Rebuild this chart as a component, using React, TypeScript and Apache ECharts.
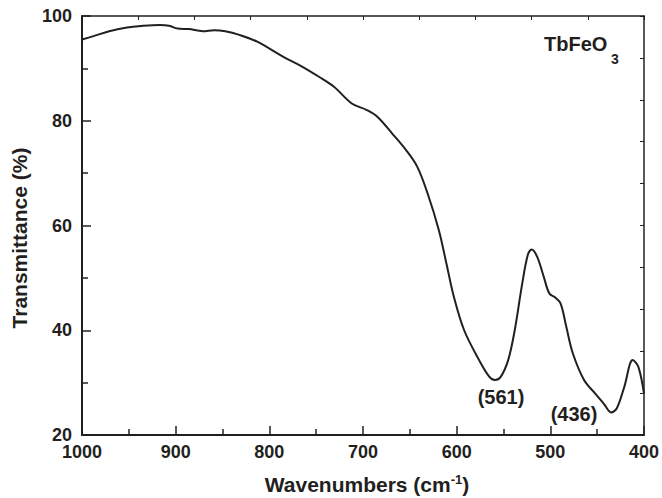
import React, { useEffect, useRef } from "react";
import * as echarts from "echarts";

const wavenumbers = [
  1000, 987, 971, 952, 937, 917, 907, 898, 886, 871, 859, 847, 832, 813, 785,
  766, 747, 731, 712, 696, 685, 669, 654, 642, 631, 619, 611, 603, 592, 576,
  565, 559, 553, 545, 538, 530, 524, 520, 514, 507, 501, 495, 489, 483, 476,
  464, 452, 443, 435, 429, 421, 412, 406, 400,
];
const transmittance = [
  95.5, 96.2, 97.1, 97.8, 98.1, 98.3, 98.15, 97.6, 97.5, 97.1, 97.3, 97.1, 96.4,
  95.1, 92.2, 90.45, 88.4, 86.5, 83.3, 82.05, 80.8, 77.6, 74.4, 71.2, 66.1, 59.1,
  52.8, 46.4, 40.0, 34.3, 31.1, 30.5, 31.1, 34.3, 40.0, 48.9, 54.4, 55.4, 54.0,
  50.2, 47.0, 46.3, 45.1, 40.7, 35.6, 30.5, 27.9, 26.0, 24.3, 25.1, 29.2, 34.3,
  33.0, 27.9,
];
const peakLabels = ["(561)", "(436)"];
const peakLabelCoords: [number, number][] = [
  [552.6, 27.3],
  [474.7, 24.1],
];

const FONT = '"Liberation Sans", Arial, Helvetica, sans-serif';
const INK = "#231f20";

export default function App() {
  const ref = useRef<HTMLDivElement>(null);
  useEffect(() => {
    if (!ref.current) return;
    const chart = echarts.init(ref.current, null, { renderer: "svg" });
    const data = wavenumbers.map((w, i) => [w, transmittance[i]]);
    chart.setOption({
      animation: false,
      backgroundColor: "#ffffff",
      grid: { left: 82, right: 15, top: 16, bottom: 63, containLabel: false },
      xAxis: [
        {
          type: "value",
          min: 400,
          max: 1000,
          interval: 100,
          inverse: true,
          position: "bottom",
          axisLine: { show: true, lineStyle: { color: INK, width: 2 } },
          axisTick: { show: true, inside: true, length: 9, lineStyle: { color: INK, width: 1.5 } },
          minorTick: { show: true, splitNumber: 2, length: 6, lineStyle: { color: INK, width: 1.5 } },
          splitLine: { show: false },
          axisLabel: {
            show: true,
            color: INK,
            fontSize: 18,
            fontWeight: "bold",
            fontFamily: FONT,
            margin: 8,
            formatter: (v: number) => String(v),
          },
        },
        {
          type: "value",
          min: 400,
          max: 1000,
          interval: 60,
          inverse: true,
          position: "top",
          axisLine: { show: true, lineStyle: { color: INK, width: 1.5 } },
          axisTick: { show: true, inside: true, length: 4, lineStyle: { color: INK, width: 1 } },
          splitLine: { show: false },
          axisLabel: { show: false },
        },
      ],
      yAxis: [
        {
          type: "value",
          min: 20,
          max: 100,
          interval: 20,
          position: "left",
          axisLine: { show: true, lineStyle: { color: INK, width: 2 } },
          axisTick: { show: true, inside: true, length: 9, lineStyle: { color: INK, width: 1.5 } },
          minorTick: { show: true, splitNumber: 2, length: 6, lineStyle: { color: INK, width: 1.5 } },
          splitLine: { show: false },
          axisLabel: {
            show: true,
            color: INK,
            fontSize: 18,
            fontWeight: "bold",
            fontFamily: FONT,
            margin: 10,
            formatter: (v: number) => String(v),
          },
        },
        {
          type: "value",
          min: 20,
          max: 100,
          interval: 8,
          position: "right",
          axisLine: { show: true, lineStyle: { color: INK, width: 1.5 } },
          axisTick: { show: true, inside: true, length: 4, lineStyle: { color: INK, width: 1 } },
          splitLine: { show: false },
          axisLabel: { show: false },
        },
      ],
      series: [
        {
          type: "line",
          data,
          xAxisIndex: 0,
          yAxisIndex: 0,
          smooth: 0.35,
          showSymbol: false,
          symbol: "none",
          lineStyle: { color: INK, width: 2 },
          markPoint: {
            symbol: "circle",
            symbolSize: 1,
            itemStyle: { color: "rgba(0,0,0,0)" },
            label: {
              show: true,
              position: "inside",
              color: INK,
              fontSize: 20,
              fontWeight: "bold",
              fontFamily: FONT,
              formatter: (p: any) => p.name,
            },
            data: peakLabels.map((name, i) => ({ name, coord: peakLabelCoords[i] })),
          },
        },
      ],
      graphic: [
        {
          type: "text",
          x: 19,
          y: 238,
          rotation: Math.PI / 2,
          style: {
            text: "Transmittance (%)",
            fill: INK,
            font: `bold 21px ${FONT}`,
            align: "center",
            verticalAlign: "middle",
          },
        },
        {
          type: "text",
          x: 367,
          y: 484,
          style: {
            text: "Wavenumbers (cm{sup|-1})",
            fill: INK,
            font: `bold 21px ${FONT}`,
            fontSize: 21,
            fontWeight: "bold",
            fontFamily: FONT,
            lineHeight: 22,
            align: "center",
            verticalAlign: "middle",
            rich: {
              sup: {
                fontSize: 13,
                fontWeight: "bold",
                fontFamily: FONT,
                fill: INK,
                lineHeight: 13,
                verticalAlign: "top",
              },
            },
          },
        },
        {
          type: "text",
          x: 544,
          y: 44,
          style: {
            text: "TbFeO",
            fill: INK,
            font: `bold 20px ${FONT}`,
            align: "left",
            verticalAlign: "middle",
          },
        },
        {
          type: "text",
          x: 611,
          y: 59,
          style: {
            text: "3",
            fill: INK,
            font: `bold 14px ${FONT}`,
            align: "left",
            verticalAlign: "middle",
          },
        },
      ],
    });
    return () => chart.dispose();
  }, []);
  return (
    <div
      ref={ref}
      style={{ position: "fixed", left: 0, top: 0, width: 662, height: 498, background: "#fff" }}
    />
  );
}
